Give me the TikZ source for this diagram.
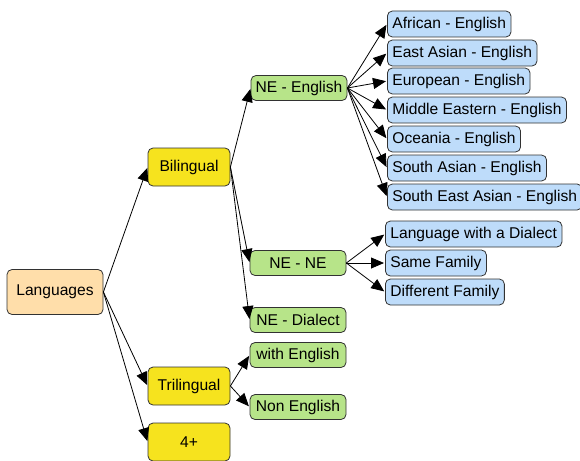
\documentclass[tikz,border=0pt]{standalone}
\usepackage{fontspec}
\setmainfont{Liberation Sans}
\usetikzlibrary{arrows.meta}
\definecolor{rootfill}{RGB}{255,222,170}
\definecolor{levelfill}{RGB}{246,227,30}
\definecolor{subfill}{RGB}{183,228,137}
\definecolor{leaffill}{RGB}{190,220,250}
\definecolor{boxline}{RGB}{50,50,50}
\tikzset{
  basebox/.style={ draw=boxline, line width=0.8pt, rounded corners=5pt, inner sep=0pt,
    font=\fontsize{15.6}{18}\selectfont }
}
\tikzset{
  rootbox/.style={ basebox, fill=rootfill, minimum width=96pt, minimum height=45pt }
}
\tikzset{
  levelbox/.style={ basebox, fill=levelfill, minimum width=82pt, minimum height=38pt }
}
\tikzset{
  subbox/.style={ basebox, fill=subfill, minimum width=96pt, minimum height=25pt }
}
\tikzset{
  leafbox/.style={ basebox, fill=leaffill, anchor=west, inner xsep=5pt, minimum height=26pt }
}
\begin{document}
\begin{tikzpicture}[x=1pt, y=-1pt]
      \useasboundingbox (0,0) rectangle (580,460);
      \clip (0,0) rectangle (580,460);

      \node[rootbox] (lang) at (55, 292) {Languages};

      \node[levelbox] (bi) at (189, 167) {Bilingual};
      \node[levelbox] (tri) at (189, 386) {Trilingual};
      \node[levelbox] (four) at (189, 442) {4+};

      \node[subbox] (neen) at (299, 88) {NE - English};
      \node[subbox] (nene) at (298, 263) {NE - NE};
      \node[subbox] (nedia) at (298, 320) {NE - Dialect};
      \node[subbox] (withen) at (298, 355) {with English};
      \node[subbox] (nonen) at (298, 407) {Non English};

      \node[leafbox] (afr) at (387, 24) {African - English};
      \node[leafbox] (eas) at (387, 53) {East Asian - English};
      \node[leafbox] (eur) at (387, 81) {European - English};
      \node[leafbox] (mid) at (387, 110) {Middle Eastern - English};
      \node[leafbox] (oce) at (387, 139) {Oceania - English};
      \node[leafbox] (sas) at (387, 168) {South Asian - English};
      \node[leafbox] (sea) at (387, 197) {South East Asian - English};

      \node[leafbox] (dia) at (385, 234) {Language with a Dialect};
      \node[leafbox] (same) at (385, 263) {Same Family};
      \node[leafbox] (diff) at (385, 292) {Different Family};

      \begin{scope}[-{Triangle[length=13pt, width=11pt]}, line width=0.8pt, shorten >=1pt]
        \draw (lang.east) -- (bi.west);
        \draw (lang.east) -- (tri.west);
        \draw (lang.east) -- (four.west);

        \draw (bi.east) -- (neen.west);
        \draw (bi.east) -- (nene.west);
        \draw (bi.east) -- (nedia.west);

        \draw (tri.east) -- (withen.west);
        \draw (tri.east) -- (nonen.west);

        \draw (neen.east) -- (afr.west);
        \draw (neen.east) -- (eas.west);
        \draw (neen.east) -- (eur.west);
        \draw (neen.east) -- (mid.west);
        \draw (neen.east) -- (oce.west);
        \draw (neen.east) -- (sas.west);
        \draw (neen.east) -- (sea.west);

        \draw (nene.east) -- (dia.west);
        \draw (nene.east) -- (same.west);
        \draw (nene.east) -- (diff.west);
      \end{scope}
    \end{tikzpicture}
\end{document}
